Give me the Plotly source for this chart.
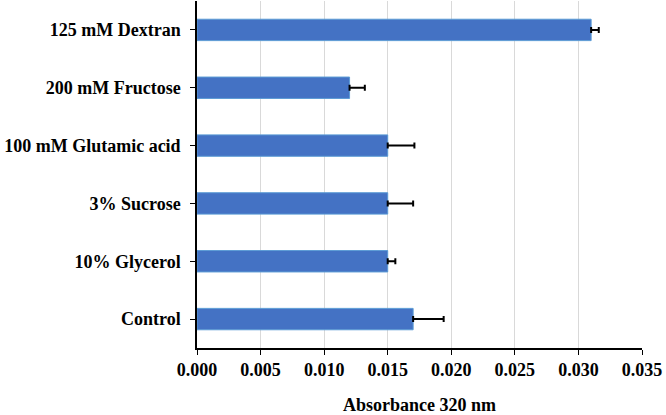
import plotly.graph_objects as go

categories = ["Control", "10% Glycerol", "3% Sucrose", "100 mM Glutamic acid",
              "200 mM Fructose", "125 mM Dextran"]
absorbance = [0.017, 0.015, 0.015, 0.015, 0.012, 0.031]
errors = [0.0024, 0.0006, 0.002, 0.0021, 0.0012, 0.0006]
x_ticks = [0.000, 0.005, 0.010, 0.015, 0.020, 0.025, 0.030, 0.035]
x_tick_labels = ["0.000", "0.005", "0.010", "0.015", "0.020", "0.025", "0.030", "0.035"]

font_family = "'Liberation Serif', 'Times New Roman', serif"

fig = go.Figure(go.Bar(
    x=absorbance,
    y=categories,
    orientation="h",
    marker=dict(color="#4472C4", line=dict(color="#5B9BD5", width=1)),
    error_x=dict(type="data", symmetric=False, array=errors,
                 arrayminus=[0] * len(errors), visible=True, color="black",
                 thickness=2, width=3),
))

fig.update_layout(
    width=666, height=415,
    margin=dict(l=197, r=24, t=1, b=67),
    paper_bgcolor="white", plot_bgcolor="white",
    bargap=0.63,
    showlegend=False,
    font=dict(family=font_family, size=18, color="black"),
)
fig.update_xaxes(
    range=[0, 0.035],
    tickvals=x_ticks, ticktext=x_tick_labels,
    showgrid=True, gridcolor="#D9D9D9", gridwidth=1,
    showline=True, linecolor="black", linewidth=1.5,
    ticks="outside", ticklen=5, tickcolor="black",
    tickfont=dict(family=font_family, size=18, color="black", weight="bold"),
    title=dict(text="<b>Absorbance 320 nm</b>", standoff=22,
               font=dict(family=font_family, size=18, color="black")),
    zeroline=False,
)
fig.update_yaxes(
    showline=True, linecolor="black", linewidth=1.5,
    ticks="outside", ticklen=5, tickcolor="black",
    ticklabelstandoff=6,
    tickfont=dict(family=font_family, size=18, color="black", weight="bold"),
    showgrid=False,
)

fig.write_html("out.html")
